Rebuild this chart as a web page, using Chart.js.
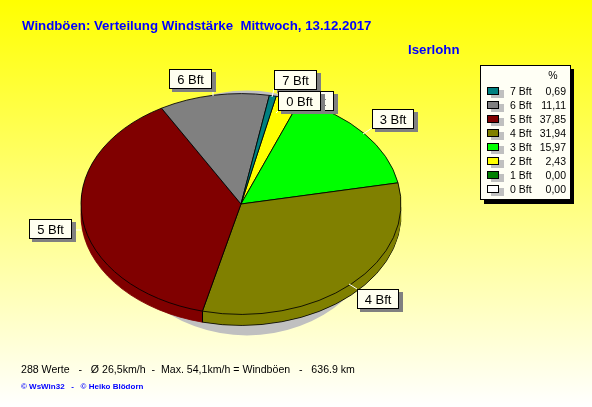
<!DOCTYPE html>
<html>
<head>
<meta charset="utf-8">
<style>
  html, body { margin: 0; padding: 0; }
  body { width: 592px; height: 407px; overflow: hidden; background: linear-gradient(#ffff00, #ffffff); }
  #wrap { position: relative; width: 592px; height: 407px; }
</style>
<script src="https://cdn.jsdelivr.net/npm/chart.js@4"></script>
</head>
<body>
<div id="wrap"><canvas id="pie"></canvas></div>
<script>
const categories = ['7 Bft', '6 Bft', '5 Bft', '4 Bft', '3 Bft', '2 Bft', '1 Bft', '0 Bft'];
const percentValues = [0.69, 11.11, 37.85, 31.94, 15.97, 2.43, 0.00, 0.00];
const percentLabels = ['0,69', '11,11', '37,85', '31,94', '15,97', '2,43', '0,00', '0,00'];
const sliceColors = ['#008080', '#808080', '#800000', '#808000', '#00ff00', '#ffff00', '#008000', '#ffffff'];

const titleText = 'Windböen: Verteilung Windstärke  Mittwoch, 13.12.2017';
const stationText = 'Iserlohn';
const footerText = '288 Werte   -   Ø 26,5km/h  -  Max. 54,1km/h = Windböen   -   636.9 km';
const creditText = '© WsWin32   -   © Heiko Blödorn';

// callout boxes [category, left, top, width, leader x1, y1, x2, y2], in paint order
const callouts = [
  ['6 Bft', 169, 69, 43, 213, 89, 213, 96],
  ['7 Bft', 274, 70, 43, 274, 89, 272, 97],
  ['2 Bft', 291, 91, 43, 291, 111, 285, 113],
  ['0 Bft', 278, 91, 43, 278, 111, 276, 113],
  ['3 Bft', 372, 109, 42, 372, 128, 363, 134],
  ['5 Bft', 29, 219, 43, 72, 230, 81, 230],
  ['4 Bft', 357, 289, 42, 357, 289, 349, 284]
];

const SQUASH = 0.69;
const DEPTH = 11;
const BLUE = '#0000ff';

function eachArc(chart, fn) {
  chart.getDatasetMeta(0).data.forEach(fn);
}

const pie3d = {
  id: 'pie3d',
  beforeDatasetsDraw(chart) {
    const ctx = chart.ctx;
    const first = chart.getDatasetMeta(0).data[0];
    const cx = first.x, cy = first.y, r = first.outerRadius;

    // soft shadow under the pie
    ctx.save();
    ctx.fillStyle = '#c0c0c0';
    ctx.beginPath();
    ctx.ellipse(cx + 6, cy + 9, r - 22, r * SQUASH + 12, 0, 0, Math.PI * 2);
    ctx.fill();
    ctx.restore();

    // side wall: stack of copies of the arcs, outline only on the lowest one
    // (the dark red wall has no visible black edge in the reference)
    for (let d = DEPTH; d > 0; d--) {
      ctx.save();
      ctx.translate(cx, cy + d);
      ctx.scale(1, SQUASH);
      ctx.translate(-cx, -cy);
      eachArc(chart, arc => {
        const keepWidth = arc.options.borderWidth;
        const keepColor = arc.options.borderColor;
        if (d !== DEPTH) arc.options.borderWidth = 0;
        if (arc.options.backgroundColor === '#800000') arc.options.borderColor = '#800000';
        arc.draw(ctx);
        arc.options.borderWidth = keepWidth;
        arc.options.borderColor = keepColor;
      });
      ctx.restore();
    }

    // seams of the side wall on the front half
    ctx.save();
    ctx.strokeStyle = '#000';
    ctx.lineWidth = 1;
    eachArc(chart, arc => {
      const s = Math.sin(arc.endAngle);
      if (s > 0 && arc.circumference > 0) {
        const x = Math.round(cx + r * Math.cos(arc.endAngle)) + 0.5;
        const y = cy + r * s * SQUASH;
        ctx.beginPath();
        ctx.moveTo(x, y);
        ctx.lineTo(x, y + DEPTH);
        ctx.stroke();
      }
    });
    ctx.restore();
  },
  beforeDatasetDraw(chart) {
    const ctx = chart.ctx;
    const first = chart.getDatasetMeta(0).data[0];
    ctx.save();
    ctx.translate(first.x, first.y);
    ctx.scale(1, SQUASH);
    ctx.translate(-first.x, -first.y);
  },
  afterDatasetDraw(chart) {
    chart.ctx.restore();
  },
  afterDraw(chart) {
    const ctx = chart.ctx;
    ctx.save();
    ctx.textBaseline = 'alphabetic';

    ctx.fillStyle = BLUE;
    ctx.font = 'bold 13.25px "Liberation Sans"';
    ctx.textAlign = 'left';
    ctx.fillText(titleText, 22, 30);
    ctx.fillText(stationText, 408, 54);

    ctx.fillStyle = '#000';
    ctx.font = '10.6px "Liberation Sans"';
    ctx.fillText(footerText, 21, 373);

    ctx.fillStyle = BLUE;
    ctx.font = 'bold 8px "Liberation Sans"';
    ctx.fillText(creditText, 21, 389);

    // callouts
    callouts.forEach(([name, x, y, w, x1, y1, x2, y2]) => {
      ctx.strokeStyle = '#fff';
      ctx.lineWidth = 1;
      ctx.beginPath();
      ctx.moveTo(x1, y1);
      ctx.lineTo(x2, y2);
      ctx.stroke();
      ctx.fillStyle = '#808080';
      ctx.fillRect(x + 3, y + 3, w + 1, 20);
      ctx.fillStyle = '#fffff0';
      ctx.fillRect(x, y, w, 20);
      ctx.strokeStyle = '#000';
      ctx.strokeRect(x + 0.5, y + 0.5, w - 1, 19);
      ctx.fillStyle = '#000';
      ctx.font = '13px "Liberation Sans"';
      ctx.textAlign = 'center';
      ctx.fillText(name, x + w / 2, y + 15);
    });

    // legend table
    ctx.fillStyle = '#000';
    ctx.fillRect(484, 69, 90, 135);
    ctx.fillStyle = '#fffff5';
    ctx.fillRect(480, 65, 91, 135);
    ctx.strokeStyle = '#000';
    ctx.strokeRect(480.5, 65.5, 90, 134);
    ctx.fillStyle = '#000';
    ctx.font = '10.5px "Liberation Sans"';
    ctx.textAlign = 'center';
    ctx.fillText('%', 553, 79);
    categories.forEach((name, i) => {
      const y = 91 + i * 14;
      ctx.fillStyle = '#c0c0c0';
      ctx.fillRect(491, y - 1, 13, 8);
      ctx.fillStyle = sliceColors[i];
      ctx.fillRect(487, y - 4, 12, 8);
      ctx.strokeStyle = '#000';
      ctx.strokeRect(487.5, y - 3.5, 11, 7);
      ctx.fillStyle = '#000';
      ctx.textAlign = 'left';
      ctx.fillText(name, 510, y + 4);
      ctx.textAlign = 'right';
      ctx.fillText(percentLabels[i], 566, y + 4);
    });
    ctx.restore();
  }
};

// the reference runs clockwise from 0 Bft, the legend the other way round
new Chart(document.getElementById('pie'), {
  type: 'pie',
  data: {
    labels: categories.slice().reverse(),
    datasets: [{
      data: percentValues.slice().reverse(),
      backgroundColor: sliceColors.slice().reverse(),
      borderColor: '#000',
      borderWidth: 1,
      hoverOffset: 0
    }]
  },
  options: {
    responsive: true,
    maintainAspectRatio: false,
    animation: false,
    rotation: 12.7,
    radius: 160,
    layout: { padding: { left: 81, right: 191, top: 44, bottom: 43 } },
    plugins: { legend: { display: false }, title: { display: false }, tooltip: { enabled: false } }
  },
  plugins: [pie3d]
});
</script>
</body>
</html>
